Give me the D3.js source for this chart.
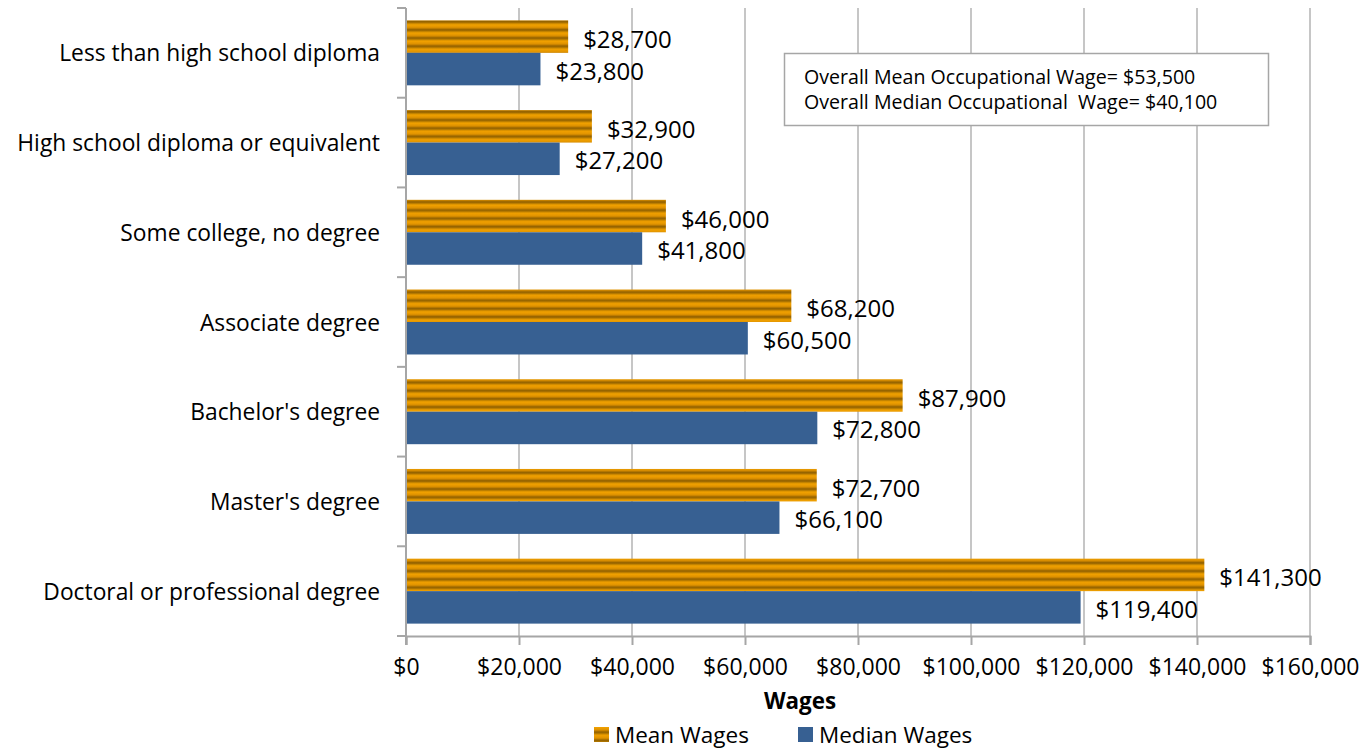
<!DOCTYPE html>
<html>
<head>
<meta charset="utf-8">
<script src="https://cdn.jsdelivr.net/npm/d3@7"></script>
<style>
  body { margin: 0; background: #fff; }
  text { font-family: "Open Sans", sans-serif; fill: #000; }
</style>
</head>
<body>
<svg id="chart" width="1370" height="749"></svg>
<script>
const categories = [
  'Less than high school diploma',
  'High school diploma or equivalent',
  'Some college, no degree',
  'Associate degree',
  "Bachelor's degree",
  "Master's degree",
  'Doctoral or professional degree'
];
const meanWages = [28700, 32900, 46000, 68200, 87900, 72700, 141300];
const medianWages = [23800, 27200, 41800, 60500, 72800, 66100, 119400];
const xTicks = [0, 20000, 40000, 60000, 80000, 100000, 120000, 140000, 160000];
const noteLines = [
  'Overall Mean Occupational Wage= $53,500',
  'Overall Median Occupational  Wage= $40,100'
];

const svg = d3.select('#chart');
const fmt = (v) => '$' + d3.format(',')(v);

const plotLeft = 406, plotRight = 1310, plotTop = 8, plotBottom = 636;
const x = d3.scaleLinear().domain([0, 160000]).range([plotLeft, plotRight]);
const y = d3.scaleBand().domain(categories).range([plotTop, plotBottom]);
const barH = y.bandwidth() * 0.362;
const off = (y.bandwidth() - 2 * barH) / 2;

// striped fill for the mean bars
const defs = svg.append('defs');
const grad = defs.append('linearGradient')
  .attr('id', 'stripeGrad').attr('x1', 0).attr('y1', 0).attr('x2', 0).attr('y2', 1);
grad.append('stop').attr('offset', '0%').attr('stop-color', '#f2a200');
grad.append('stop').attr('offset', '35%').attr('stop-color', '#e09200');
grad.append('stop').attr('offset', '65%').attr('stop-color', '#8a5c00');
grad.append('stop').attr('offset', '100%').attr('stop-color', '#f2a200');
defs.append('pattern')
  .attr('id', 'stripes').attr('patternUnits', 'userSpaceOnUse')
  .attr('width', 8).attr('height', 8.2)
  .append('rect').attr('width', 8).attr('height', 8.2).attr('fill', 'url(#stripeGrad)');

// grid lines
svg.append('g')
  .selectAll('line')
  .data(xTicks.slice(1))
  .join('line')
  .attr('x1', (d) => x(d)).attr('x2', (d) => x(d))
  .attr('y1', plotTop).attr('y2', plotBottom)
  .attr('stroke', '#b3b3b3').attr('stroke-width', 1.5);

// bottom axis
const xAxis = svg.append('g')
  .attr('transform', `translate(0,${plotBottom})`)
  .call(d3.axisBottom(x).tickValues(xTicks).tickFormat(fmt).tickSize(9).tickPadding(14));
xAxis.select('.domain').attr('stroke', '#a6a6a6').attr('stroke-width', 2);
xAxis.selectAll('.tick line').attr('stroke', '#a6a6a6').attr('stroke-width', 2);
xAxis.selectAll('text').attr('font-size', 23).attr('font-family', '"Open Sans", sans-serif').attr('fill', '#000');

// left axis
const bounds = d3.range(categories.length + 1).map((i) => plotTop + i * y.step());
svg.append('g')
  .selectAll('line')
  .data(bounds)
  .join('line')
  .attr('x1', plotLeft - 9).attr('x2', plotLeft)
  .attr('y1', (d) => d).attr('y2', (d) => d)
  .attr('stroke', '#a6a6a6').attr('stroke-width', 2);
svg.append('line')
  .attr('x1', plotLeft).attr('x2', plotLeft).attr('y1', plotTop).attr('y2', plotBottom + 9)
  .attr('stroke', '#a6a6a6').attr('stroke-width', 2);

svg.append('g')
  .selectAll('text')
  .data(categories)
  .join('text')
  .attr('x', 380)
  .attr('y', (d) => y(d) + y.bandwidth() / 2)
  .attr('text-anchor', 'end')
  .attr('dominant-baseline', 'central')
  .attr('font-size', 22.8)
  .text((d) => d);

// bars
const rows = categories.map((c, i) => ({ c, mean: meanWages[i], median: medianWages[i] }));

svg.append('g')
  .selectAll('rect')
  .data(rows)
  .join('rect')
  .attr('x', plotLeft + 1)
  .attr('y', (d) => y(d.c) + off)
  .attr('width', (d) => x(d.mean) - plotLeft - 1)
  .attr('height', barH)
  .attr('fill', 'url(#stripes)');

svg.append('g')
  .selectAll('rect')
  .data(rows)
  .join('rect')
  .attr('x', plotLeft + 1)
  .attr('y', (d) => y(d.c) + off + barH)
  .attr('width', (d) => x(d.median) - plotLeft - 1)
  .attr('height', barH)
  .attr('fill', '#376092');

// value labels
svg.append('g')
  .selectAll('text')
  .data(rows)
  .join('text')
  .attr('x', (d) => x(d.mean) + 15)
  .attr('y', (d) => y(d.c) + off + barH / 2 + 2)
  .attr('dominant-baseline', 'central')
  .attr('font-size', 24)
  .text((d) => fmt(d.mean));

svg.append('g')
  .selectAll('text')
  .data(rows)
  .join('text')
  .attr('x', (d) => x(d.median) + 15)
  .attr('y', (d) => y(d.c) + off + barH * 1.5 + 1)
  .attr('dominant-baseline', 'central')
  .attr('font-size', 24)
  .text((d) => fmt(d.median));

// note box
svg.append('rect')
  .attr('x', 784.5).attr('y', 53.5).attr('width', 484).attr('height', 72)
  .attr('fill', '#fff').attr('stroke', '#a6a6a6').attr('stroke-width', 1.5);
svg.append('g')
  .selectAll('text')
  .data(noteLines)
  .join('text')
  .attr('x', 804)
  .attr('y', (d, i) => 76 + i * 25)
  .attr('dominant-baseline', 'central')
  .attr('font-size', 19.6)
  .attr('xml:space', 'preserve')
  .style('white-space', 'pre')
  .text((d) => d);

// axis title
svg.append('text')
  .attr('x', 800).attr('y', 700)
  .attr('text-anchor', 'middle')
  .attr('dominant-baseline', 'central')
  .attr('font-size', 22.4)
  .attr('font-weight', 'bold')
  .text('Wages');

// legend
const legend = [
  { label: 'Mean Wages', fill: 'url(#stripes)', x: 594 },
  { label: 'Median Wages', fill: '#376092', x: 798 }
];
const lg = svg.append('g').selectAll('g').data(legend).join('g')
  .attr('transform', (d) => `translate(${d.x},727)`);
lg.append('rect').attr('width', 15).attr('height', 15).attr('fill', (d) => d.fill);
lg.append('text')
  .attr('x', 21).attr('y', 7)
  .attr('dominant-baseline', 'central')
  .attr('font-size', 22.5)
  .text((d) => d.label);
</script>
</body>
</html>
